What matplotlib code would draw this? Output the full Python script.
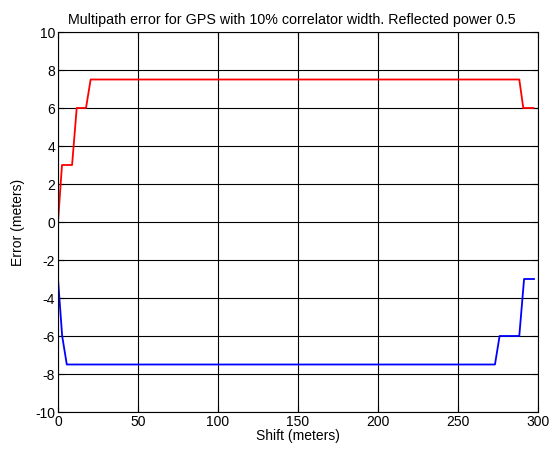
import matplotlib
matplotlib.use("Agg")
import matplotlib.pyplot as plt

shift_pos = [0, 2.5, 8.8, 11.7, 17.5, 20.4, 288.3, 290.8, 297.2]
err_pos = [0, 3, 3, 6, 6, 7.5, 7.5, 6, 6]

shift_neg = [0, 2.6, 5.5, 273.1, 276.0, 288.3, 291.3, 297.5]
err_neg = [-3, -6, -7.5, -7.5, -6, -6, -3, -3]

xticks = [0, 50, 100, 150, 200, 250, 300]
yticks = list(range(-10, 11, 2))

plt.rcParams['font.family'] = ['Liberation Sans', 'DejaVu Sans']
plt.rcParams['font.size'] = 10
plt.rcParams['axes.unicode_minus'] = False

fig = plt.figure(figsize=(5.59, 4.51), dpi=100, facecolor='white')
ax = fig.add_axes([58 / 559, 39 / 451, 480 / 559, 380 / 451])

ax.plot(shift_pos, err_pos, color='red', lw=1.3)
ax.plot(shift_neg, err_neg, color='blue', lw=1.3)

ax.set_xlim(0, 300)
ax.set_ylim(-10, 10)
ax.set_xticks(xticks)
ax.set_yticks(yticks)
ax.grid(True, color='black', lw=0.8, ls='-')
ax.tick_params(direction='in', length=4, width=0.8, top=True, right=True,
               labelsize=10, colors='black', pad=2)
for s in ax.spines.values():
    s.set_linewidth(0.8)

ax.set_xlabel('Shift (meters)', fontsize=10, labelpad=0)
ax.set_ylabel('Error (meters)', fontsize=10, labelpad=7)
ax.set_title('Multipath error for GPS with 10% correlator width. Reflected power 0.5',
             fontsize=10.3, pad=6, x=0.488)

fig.savefig('out.png', dpi=100)
